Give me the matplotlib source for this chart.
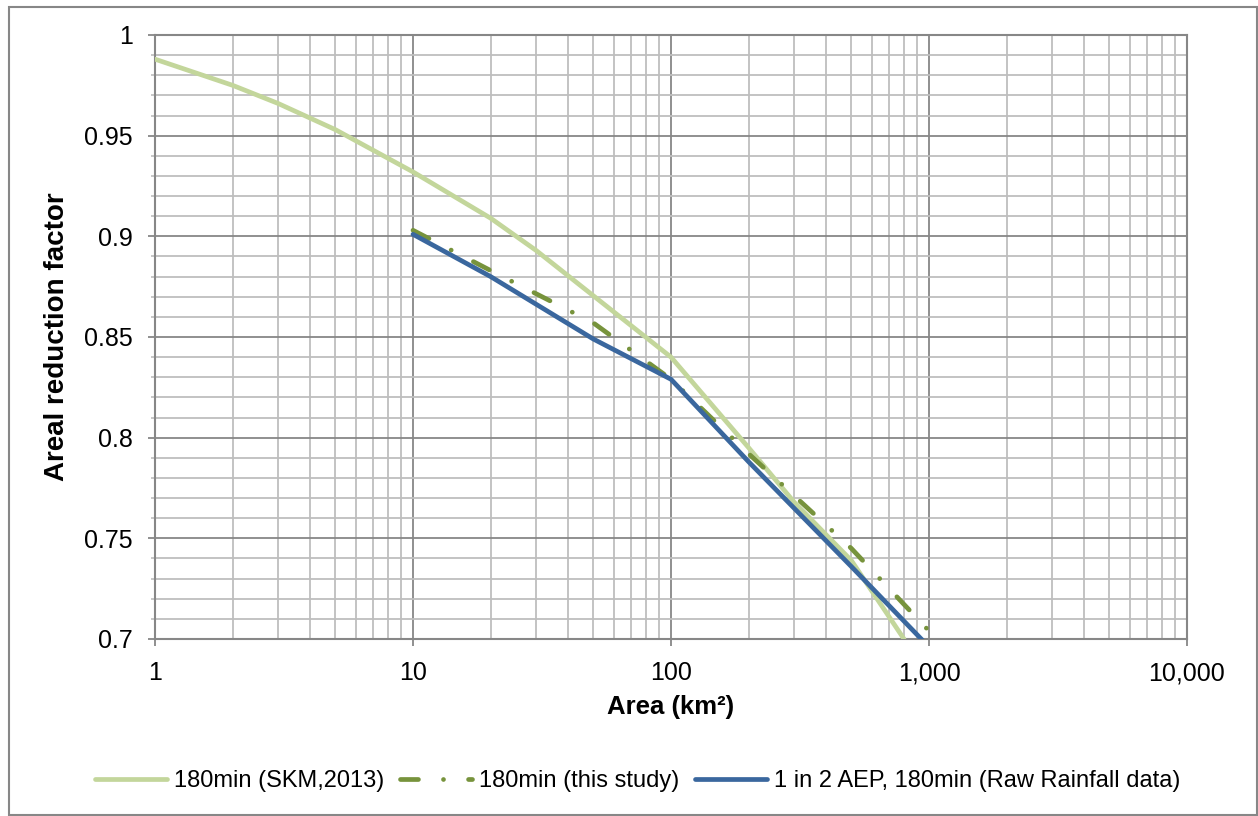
import matplotlib
matplotlib.use("Agg")
import matplotlib.pyplot as plt
from matplotlib import font_manager
from matplotlib.patches import Rectangle
from matplotlib.ticker import FixedLocator, FuncFormatter

# ARF curves, 180 min duration
skm_area = [1, 2, 3, 5, 10, 20, 30, 50, 100, 200, 300, 500, 800]
skm_arf = [0.988, 0.975, 0.966, 0.953, 0.932, 0.909, 0.893, 0.8705, 0.840, 0.795, 0.768, 0.739, 0.700]

study_area = [10, 20, 50, 100, 200, 500, 1000]
study_arf = [0.903, 0.883, 0.857, 0.829, 0.792, 0.745, 0.704]

raw_area = [10, 20, 50, 100, 200, 500, 1000]
raw_arf = [0.901, 0.880, 0.849, 0.829, 0.788, 0.736, 0.696]

labels = ["180min (SKM,2013)", "180min (this study)",
          "1 in 2 AEP, 180min (Raw Rainfall data)"]

x_ticks = [1, 10, 100, 1000, 10000]
y_ticks = [0.7, 0.75, 0.8, 0.85, 0.9, 0.95, 1.0]

plt.rcParams['font.family'] = ['Liberation Sans', 'DejaVu Sans']

# legend uses a narrow face when there is one, else regular at a smaller size
try:
    font_manager.findfont('Liberation Sans Narrow', fallback_to_default=False)
    leg_font, leg_size = ['Liberation Sans Narrow', 'DejaVu Sans'], 18.5
except ValueError:
    leg_font, leg_size = ['Liberation Sans', 'DejaVu Sans'], 17
px_em = leg_size * 100 / 72

fig = plt.figure(figsize=(12.58, 8.16), dpi=100)
ax = fig.add_axes([155 / 1258, 1 - 639 / 816, (1187 - 155) / 1258, (639 - 35) / 816])

grid_major = '#878787'
grid_minor = '#bebebe'

ax.plot(skm_area, skm_arf, color='#c3d69b', lw=3.4, solid_capstyle='round',
        solid_joinstyle='round', label=labels[0], zorder=3)
ax.plot(study_area, study_arf, color='#77933c', lw=3.4, dash_capstyle='round',
        dashes=(3.8, 5.3, 0.01, 5.3), label=labels[1], zorder=4)
ax.plot(raw_area, raw_arf, color='#3a679e', lw=3.4, solid_capstyle='round',
        label=labels[2], zorder=5)

ax.set_xscale('log')
ax.set_xlim(1, 10000)
ax.set_ylim(0.7, 1.0)

ax.xaxis.set_major_locator(FixedLocator(x_ticks))
ax.xaxis.set_minor_locator(FixedLocator([m * d for d in [1, 10, 100, 1000] for m in range(2, 10)]))
ax.xaxis.set_major_formatter(FuncFormatter(lambda v, p: f"{int(round(v)):,}"))
ax.xaxis.set_minor_formatter(FuncFormatter(lambda v, p: ""))

ax.yaxis.set_major_locator(FixedLocator(y_ticks))
ax.yaxis.set_minor_locator(FixedLocator([0.7 + 0.01 * i for i in range(31)]))
ax.yaxis.set_major_formatter(FuncFormatter(lambda v, p: f"{v:g}"))

ax.grid(which='major', color=grid_major, lw=1.3, zorder=1)
ax.grid(which='minor', color=grid_minor, lw=1.3, zorder=0)
ax.set_axisbelow(True)

for s in ax.spines.values():
    s.set_color(grid_major)
    s.set_linewidth(1.5)

ax.tick_params(axis='both', which='major', labelsize=18, color=grid_major,
               width=1.3, length=5)
ax.tick_params(axis='x', which='major', pad=11)
ax.tick_params(axis='y', which='major', pad=11)
ax.tick_params(axis='x', which='minor', length=0)
ax.tick_params(axis='y', which='minor', length=3, color=grid_minor, width=1.2)

ax.set_xlabel('Area (km²)', fontsize=18.5, fontweight='bold', labelpad=7)
ax.set_ylabel('Areal reduction factor', fontsize=20, fontweight='bold', labelpad=10)

fig.legend(loc='center', bbox_to_anchor=(0.507, 0.043), ncol=3, frameon=False,
           prop={'family': leg_font, 'size': leg_size},
           handlelength=72 / px_em, handletextpad=7 / px_em,
           columnspacing=16 / px_em, borderaxespad=0)

# outer chart border
fig.patches.append(Rectangle((9 / 1258, 1 / 816), 1248 / 1258, 808 / 816,
                             transform=fig.transFigure, fill=False,
                             edgecolor=grid_major, lw=1.5))

fig.savefig('out.png', dpi=100)
